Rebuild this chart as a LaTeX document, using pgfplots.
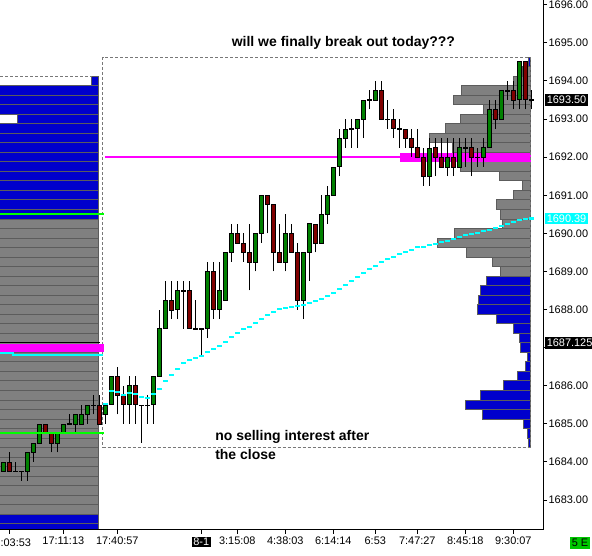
\documentclass[border=0pt]{standalone}
\usepackage{pgfplots}
\usepackage{pgfplotstable}
\pgfplotsset{compat=1.18}
\usepackage{fontspec}
\setmainfont{Liberation Sans}

\definecolor{upg}{RGB}{0,128,0}
\definecolor{dnr}{RGB}{128,0,0}
\definecolor{volg}{RGB}{128,128,128}
\definecolor{volb}{RGB}{0,0,204}
\definecolor{volbd}{RGB}{92,92,92}
\definecolor{poc}{RGB}{255,0,255}
\definecolor{vwap}{RGB}{0,255,255}
\definecolor{vagreen}{RGB}{0,255,0}
\definecolor{boxg}{RGB}{120,120,120}
\definecolor{tag}{RGB}{0,200,0}

\newcommand{\blacktag}[1]{{\setlength{\fboxsep}{1pt}\colorbox{black}{\textcolor{white}{#1}}}}

% candles: j = bar index (x = 3.3 + 6 j pixels), o h l c
\pgfplotstableread{
j o h l c
0 1683.75 1684.00 1683.75 1684.00
4 1683.75 1684.25 1683.50 1684.25
5 1684.25 1684.50 1684.00 1684.50
6 1684.50 1685.00 1684.50 1685.00
9 1684.50 1684.75 1684.25 1684.75
10 1684.75 1685.00 1684.75 1685.00
12 1685.00 1685.25 1684.75 1685.25
13 1685.00 1685.50 1685.00 1685.25
14 1685.25 1685.50 1685.00 1685.50
17 1685.25 1685.50 1685.00 1685.50
18 1685.50 1686.25 1685.50 1686.25
21 1685.50 1686.25 1685.00 1686.00
25 1685.50 1686.25 1685.00 1686.25
26 1686.25 1688.00 1686.25 1687.50
27 1687.50 1688.75 1687.50 1688.25
29 1688.00 1688.75 1687.75 1688.50
34 1687.50 1689.25 1687.25 1689.00
36 1688.00 1689.25 1687.75 1688.50
37 1688.25 1689.50 1688.25 1689.50
38 1689.50 1690.25 1689.25 1690.00
42 1689.25 1690.00 1689.00 1690.00
43 1690.00 1691.00 1689.75 1691.00
47 1689.25 1690.50 1689.00 1690.00
50 1688.25 1689.50 1687.75 1689.50
51 1689.50 1690.25 1688.75 1690.25
53 1689.75 1691.00 1689.75 1690.50
54 1690.50 1691.25 1690.25 1691.00
55 1691.00 1691.75 1691.00 1691.75
56 1691.75 1692.75 1691.50 1692.50
57 1692.50 1693.00 1692.25 1692.75
59 1692.75 1693.00 1692.25 1693.00
60 1693.00 1693.50 1692.50 1693.50
62 1693.50 1694.00 1693.50 1693.75
71 1691.50 1692.50 1691.25 1692.25
74 1691.75 1692.50 1691.50 1692.00
76 1691.75 1692.50 1691.75 1692.25
80 1692.00 1692.50 1691.75 1692.25
81 1692.25 1693.50 1692.25 1693.25
83 1693.00 1693.75 1693.00 1693.75
86 1693.50 1694.50 1693.25 1694.50
}\up

\pgfplotstableread{
j o h l c
1 1684.00 1684.25 1683.75 1683.75
7 1685.00 1685.00 1684.75 1684.75
8 1684.75 1684.75 1684.25 1684.50
16 1685.50 1685.75 1685.00 1685.00
19 1686.25 1686.50 1685.25 1685.75
20 1685.75 1686.00 1685.00 1685.50
22 1686.00 1686.25 1685.00 1685.50
28 1688.25 1688.75 1687.75 1688.00
31 1688.50 1688.75 1687.50 1687.50
35 1689.00 1689.25 1687.75 1688.00
39 1690.00 1690.25 1689.75 1689.75
40 1689.75 1690.00 1689.25 1689.50
41 1689.50 1690.25 1688.50 1689.25
44 1691.00 1691.00 1690.00 1690.75
45 1690.75 1690.75 1689.00 1689.50
46 1689.50 1690.25 1689.25 1689.25
48 1690.00 1690.25 1689.50 1689.50
49 1689.50 1689.75 1688.00 1688.25
52 1690.25 1690.25 1689.50 1689.75
63 1693.75 1694.00 1693.00 1693.00
65 1693.00 1693.25 1692.50 1692.75
67 1692.75 1692.75 1692.25 1692.50
68 1692.50 1692.75 1692.00 1692.25
69 1692.25 1692.75 1692.00 1692.00
70 1692.00 1692.25 1691.25 1691.50
72 1692.25 1692.50 1691.50 1692.00
73 1692.00 1692.50 1691.75 1691.75
75 1692.00 1692.50 1691.50 1691.75
78 1692.25 1692.50 1691.50 1692.00
82 1693.25 1693.50 1692.75 1693.00
85 1693.75 1694.00 1693.25 1693.50
87 1694.50 1694.50 1693.25 1693.50
}\down

\pgfplotstableread{
j o h l c
2 1683.75 1684.00 1683.75 1683.75
3 1683.75 1683.75 1683.50 1683.75
11 1685.00 1685.25 1685.00 1685.00
15 1685.50 1685.75 1685.25 1685.50
23 1685.50 1685.50 1684.50 1685.50
24 1685.50 1685.75 1685.00 1685.50
30 1688.50 1688.75 1687.50 1688.50
32 1687.50 1688.25 1687.50 1687.50
33 1687.50 1687.50 1686.75 1687.50
58 1692.75 1693.00 1692.25 1692.75
61 1693.50 1693.75 1693.25 1693.50
64 1693.00 1693.50 1692.75 1693.00
66 1692.75 1693.00 1692.25 1692.75
77 1692.25 1692.50 1691.75 1692.25
79 1692.00 1692.25 1691.75 1692.00
84 1693.75 1694.00 1693.50 1693.75
88 1693.50 1693.75 1693.25 1693.50
}\doji

% session VWAP, one value per bar
\pgfplotstableread{
j v
17 1685.512
18 1685.869
19 1685.835
20 1685.764
21 1685.816
22 1685.782
23 1685.711
24 1685.677
25 1685.782
26 1685.921
27 1686.131
28 1686.289
29 1686.446
30 1686.604
31 1686.675
32 1686.727
33 1686.780
34 1686.885
35 1686.955
36 1687.042
37 1687.147
38 1687.286
39 1687.391
40 1687.480
41 1687.549
42 1687.638
43 1687.759
44 1687.864
45 1687.934
46 1688.005
47 1688.039
48 1688.073
49 1688.100
50 1688.126
51 1688.178
52 1688.231
53 1688.283
54 1688.362
55 1688.441
56 1688.546
57 1688.651
58 1688.756
59 1688.861
60 1688.966
61 1689.071
62 1689.150
63 1689.247
64 1689.333
65 1689.386
66 1689.457
67 1689.509
68 1689.562
69 1689.633
70 1689.648
71 1689.693
72 1689.719
73 1689.772
74 1689.806
75 1689.850
76 1689.911
77 1689.948
78 1689.982
79 1690.016
80 1690.052
81 1690.087
82 1690.131
83 1690.192
84 1690.244
85 1690.297
86 1690.341
87 1690.383
88 1690.390
}\vwap

\pgfplotsset{
  frame/.style={at={(0pt,19.5pt)}, anchor=south west, scale only axis,
    width=407.25pt, height=397.5pt, ymin=1682.213, ymax=1696.124,
    enlargelimits=false},
  prof/.style={xbar, bar shift=0pt, bar width=0.25, draw=volbd, line width=0.75pt, fill=#1},
  nomark/.style={only marks, mark=text, text mark={}},
  wick/.style={nomark, error bars/.cd, y dir=plus, y explicit,
    error mark=none, error bar style={black, line width=0.75pt}},
  body/.style={nomark, error bars/.cd, y dir=both, y explicit,
    error mark=none, error bar style={#1}},
}

\begin{document}
\begin{tikzpicture}

% previous session volume profile (right aligned at x = 98 px)
\begin{axis}[frame, hide axis, x dir=reverse, xmin=-444.7, xmax=98.3]
\addplot[prof=volb] coordinates {
(6.7,1694.00) (150,1693.75) (150,1693.50) (150,1693.25) (81,1693.00)
(150,1692.75) (150,1692.50) (150,1692.25) (150,1692.00) (150,1691.75)
(150,1691.50) (150,1691.25) (150,1691.00) (150,1690.75) (150,1690.50)
(150,1682.50) (150,1682.25)};
\addplot[prof=volg] coordinates {
(150,1690.25) (150,1690.00) (150,1689.75) (150,1689.50) (150,1689.25)
(150,1689.00) (150,1688.75) (150,1688.50) (150,1688.25) (150,1688.00)
(150,1687.75) (150,1687.50) (150,1687.25) (150,1687.00) (150,1686.75)
(150,1686.50) (150,1686.25) (150,1686.00) (150,1685.75) (150,1685.50)
(150,1685.25) (150,1685.00) (150,1684.75) (150,1684.50) (150,1684.25)
(150,1684.00) (150,1683.75) (150,1683.50) (150,1683.25) (150,1683.00)
(150,1682.75)};
\end{axis}

% current session volume profile (right aligned at x = 530 px)
\begin{axis}[frame, hide axis, x dir=reverse, xmin=-13, xmax=530]
\addplot[prof=volg] coordinates {
(8,1694.25) (16.7,1694.00) (69,1693.75) (76.7,1693.50) (46.7,1693.25)
(69.7,1693.00) (84.7,1692.75) (100.7,1692.50) (77.3,1692.25)
(69.7,1691.75) (30.7,1691.50) (7.7,1691.25) (16.7,1691.00) (33.7,1690.75)
(29.7,1690.50) (27.7,1690.25) (75.7,1690.00) (92.7,1689.75) (63.7,1689.50)
(37.7,1689.25) (29.7,1689.00)};
\addplot[prof=volb] coordinates {
(1.7,1694.50)
(43.3,1688.75) (49.7,1688.50) (51.7,1688.25) (52.7,1688.00) (33.7,1687.75)
(16.7,1687.50) (10.7,1687.25) (9.7,1687.00) (2.7,1686.75) (4.7,1686.50)
(12.7,1686.25) (26.7,1686.00) (49.7,1685.75) (64.7,1685.50) (47.7,1685.25)
(6.7,1685.00) (2.7,1684.75) (1.7,1684.50)};
\addplot[xbar, bar shift=0pt, bar width=0.22, draw=poc, fill=poc] coordinates {(130,1692.00)};
\end{axis}

% price chart
\begin{axis}[frame, xmin=0, xmax=543, clip=false,
  axis x line=bottom, axis y line=right,
  axis line style={-, black, line width=0.75pt},
  tick style={black, line width=0.75pt}, tick align=outside, major tick length=3pt,
  xtick={9.3,63.3,117.3,201.3,237.3,285.3,333.3,375.3,417.3,465.3,513.3},
  xticklabels={{},17:11:13,17:40:57,{\blacktag{8-1}},3:15:08,4:38:03,6:14:14,6:53,7:47:27,8:45:18,9:30:07},
  ytick={1683,1684,...,1696},
  yticklabels={1683.00,1684.00,1685.00,1686.00,{},1688.00,1689.00,1690.00,1691.00,1692.00,1693.00,1694.00,1695.00,1696.00},
  ticklabel style={font=\fontsize{8.2}{9}\selectfont},
  xticklabel style={inner sep=1pt, yshift=-1pt},
  yticklabel style={inner sep=1pt, xshift=0pt},
]
% session boxes
\addplot[boxg, line width=0.75pt, dash pattern=on 2.25pt off 1.5pt] coordinates {
(102.7,1684.375) (530,1684.375) (530,1694.625) (102.7,1694.625) (102.7,1684.375)};
\addplot[boxg, line width=0.75pt, dash pattern=on 2.25pt off 1.5pt] coordinates {(0,1694.125) (92,1694.125)};
% previous session POC, settlement line, VWAP
\addplot[poc, line width=6pt] coordinates {(0,1686.99) (104,1686.99)};
\addplot[black, line width=0.75pt] coordinates {(0,1687.125) (100,1687.125)};
\addplot[vwap, line width=1.5pt] coordinates {(0,1686.86) (13,1686.86) (13,1686.815) (103,1686.815)};
% current session POC line
\addplot[poc, line width=1.5pt] coordinates {(105,1692) (530,1692)};
% candles
\addplot[wick] table[x expr=3.3+6*\thisrow{j}, y=l, y error plus expr=\thisrow{h}-\thisrow{l}] {\up};
\addplot[wick] table[x expr=3.3+6*\thisrow{j}, y=l, y error plus expr=\thisrow{h}-\thisrow{l}] {\down};
\addplot[wick] table[x expr=3.3+6*\thisrow{j}, y=l, y error plus expr=\thisrow{h}-\thisrow{l}] {\doji};
\addplot[body={black, line width=3.75pt}] table[x expr=3.3+6*\thisrow{j}, y expr=(\thisrow{o}+\thisrow{c})/2, y error expr=abs(\thisrow{o}-\thisrow{c})/2+0.0131] {\up};
\addplot[body={black, line width=3.75pt}] table[x expr=3.3+6*\thisrow{j}, y expr=(\thisrow{o}+\thisrow{c})/2, y error expr=abs(\thisrow{o}-\thisrow{c})/2+0.0131] {\down};
\addplot[body={black, line width=3.75pt}] table[x expr=3.3+6*\thisrow{j}, y expr=(\thisrow{o}+\thisrow{c})/2, y error expr=0.0131] {\doji};
\addplot[body={upg, line width=2.25pt}] table[x expr=3.3+6*\thisrow{j}, y expr=(\thisrow{o}+\thisrow{c})/2, y error expr=abs(\thisrow{o}-\thisrow{c})/2-0.0131] {\up};
\addplot[body={dnr, line width=2.25pt}] table[x expr=3.3+6*\thisrow{j}, y expr=(\thisrow{o}+\thisrow{c})/2, y error expr=abs(\thisrow{o}-\thisrow{c})/2-0.0131] {\down};
% value area lines of the previous session
\addplot[vagreen, line width=1.5pt] coordinates {(0,1690.5) (104,1690.5)};
\addplot[vagreen, line width=1.5pt] coordinates {(0,1684.75) (104,1684.75)};
% session VWAP steps
\addplot[nomark, error bars/.cd, x dir=both, x fixed=2.5, error mark=none,
  error bar style={vwap, line width=1.6pt}] table[x expr=3.3+6*\thisrow{j}, y=v] {\vwap};
% notes
\node[anchor=base west, font=\fontsize{10.5}{12}\selectfont\bfseries, inner sep=0pt] at (axis cs:231.5,1694.908) {will we finally break out today???};
\node[anchor=base west, font=\fontsize{10.5}{12}\selectfont\bfseries, inner sep=0pt] at (axis cs:215,1684.556) {no selling interest after};
\node[anchor=base west, font=\fontsize{10.5}{12}\selectfont\bfseries, inner sep=0pt] at (axis cs:215,1684.07) {the close};
% first time label, cut at the left edge in the source
\node[anchor=base west, inner sep=0pt, font=\fontsize{8.2}{9}\selectfont] at (axis cs:0.3,1681.77) {:03:53};
% price tags on the scale
\node[anchor=west, fill=black, text=white, inner sep=1.5pt, font=\fontsize{8.2}{9}\selectfont] at (axis cs:544.5,1693.5) {1693.50};
\node[anchor=west, fill=vwap, text=white, inner sep=1.5pt, font=\fontsize{8.2}{9}\selectfont] at (axis cs:544.5,1690.39) {1690.39};
\node[anchor=west, fill=black, text=white, inner sep=1.5pt, font=\fontsize{8.2}{9}\selectfont] at (axis cs:544.5,1687.125) {1687.125};
\node[anchor=west, fill=tag, text=black, inner sep=1.5pt, font=\fontsize{8.2}{9}\selectfont] at (axis cs:569.5,1681.88) {5 E};
\end{axis}

\pgfresetboundingbox
\useasboundingbox (0,0) rectangle (444pt,417pt);
\end{tikzpicture}
\end{document}
